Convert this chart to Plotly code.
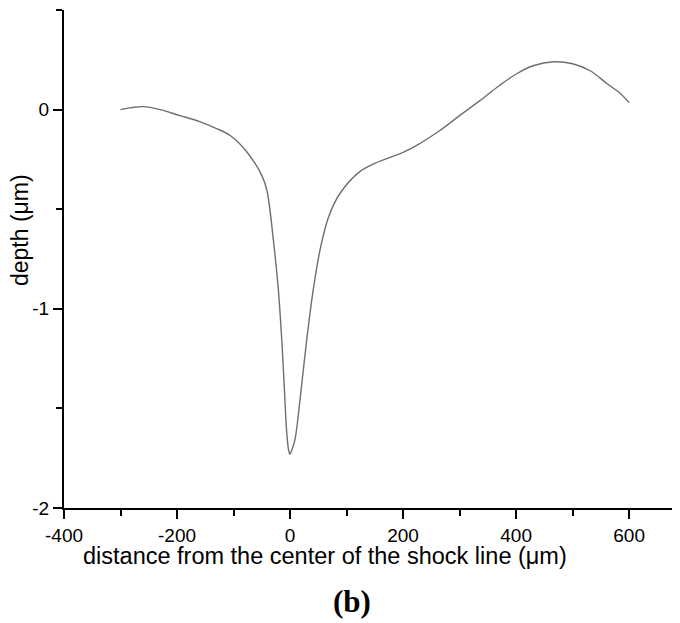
import plotly.graph_objects as go

# distance from the center of the shock line (um) and depth (um)
distance = [-300, -280, -260, -230, -195, -160, -130, -106, -83, -62, -50, -41, -29.5, -20.7, -14.7, -10, -5.9, -2.5, 0,
            3, 8.8, 17.7, 29.5, 41, 53, 68, 88.5, 124, 150, 177, 200, 224, 265, 300, 336, 370, 401, 430, 466, 500, 531, 561, 585, 600]
depth = [0.0, 0.01, 0.015, 0.0, -0.03, -0.06, -0.095, -0.13, -0.19, -0.27, -0.33, -0.405, -0.655, -0.905, -1.155, -1.405, -1.62, -1.71, -1.73,
         -1.71, -1.655, -1.455, -1.155, -0.905, -0.705, -0.54, -0.42, -0.31, -0.27, -0.24, -0.215, -0.18, -0.105, -0.03, 0.045, 0.12, 0.18, 0.22, 0.24, 0.23, 0.195, 0.13, 0.08, 0.035]

xticks = [-400, -200, 0, 200, 400, 600]
yticks = [-2, -1, 0]

fig = go.Figure()
fig.add_trace(go.Scatter(x=distance, y=depth, mode="lines",
                         line=dict(color="#6e6e6e", width=1.4, shape="spline", smoothing=1.0),
                         showlegend=False))

axis_common = dict(showline=True, linecolor="black", linewidth=2, showgrid=False, zeroline=False,
                   automargin=False, ticks="outside", ticklen=9, tickwidth=2, tickcolor="black",
                   tickfont=dict(family="Liberation Sans, Arial", size=19, color="black"))

fig.update_xaxes(range=[-400, 690], tickvals=xticks, ticktext=[str(v) for v in xticks],
                 minor=dict(tickvals=[-300, -100, 100, 300, 500], ticks="outside", ticklen=6,
                            tickwidth=2, tickcolor="black"),
                 **axis_common)
fig.update_yaxes(range=[-2, 0.5], tickvals=yticks, ticktext=[str(v) for v in yticks],
                 minor=dict(tickvals=[-1.5, -0.5, 0.5], ticks="outside", ticklen=6,
                            tickwidth=2, tickcolor="black"),
                 **axis_common)

# positions measured in page pixels (plot area spans x 64..680, y 10..508)
fig.add_annotation(text="distance from the center of the shock line (\u03bcm)", xref="paper", yref="paper",
                   x=(325 - 64) / 616, y=-(556 - 508) / 498, xanchor="center", yanchor="middle",
                   showarrow=False, font=dict(family="Liberation Sans, Arial", size=23.5, color="black"))
fig.add_annotation(text="depth (\u03bcm)", xref="paper", yref="paper", textangle=-90,
                   x=-(64 - 20) / 616, y=(508 - 230) / 498, xanchor="center", yanchor="middle",
                   showarrow=False, font=dict(family="Liberation Sans, Arial", size=23, color="black"))
fig.add_annotation(text="<b>(b)</b>", xref="paper", yref="paper",
                   x=(352 - 64) / 616, y=-(601 - 508) / 498, xanchor="center", yanchor="middle",
                   showarrow=False, font=dict(family="Liberation Serif, Times New Roman", size=31, color="black"))

# the page body adds an 8px margin, so the figure is offset by 8px
fig.update_layout(width=672, height=615, margin=dict(l=56, r=0, t=2, b=115),
                  plot_bgcolor="white", paper_bgcolor="white")
fig.write_html("out.html")
